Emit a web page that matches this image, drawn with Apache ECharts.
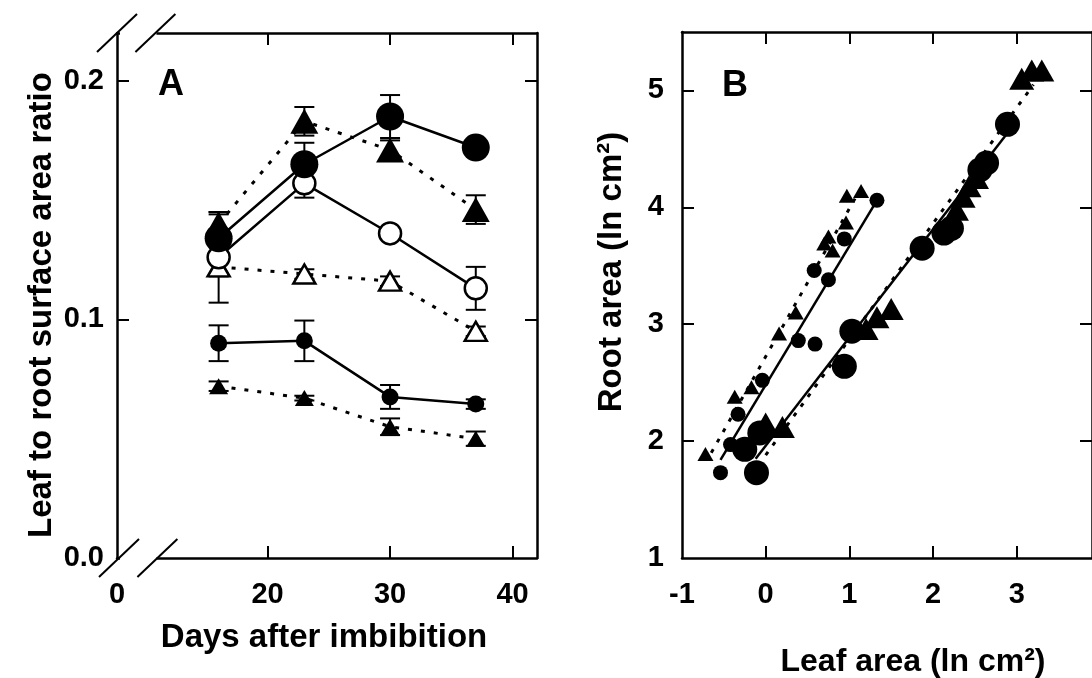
<!DOCTYPE html>
<html><head><meta charset="utf-8">
<script src="https://cdn.jsdelivr.net/npm/echarts@6/dist/echarts.min.js"></script>
<style>html,body{margin:0;padding:0;background:#fff}#c{width:1092px;height:678px}</style>
</head><body><div id="c"></div>
<script>
// ---------- Panel A data ----------
const days = [16, 23, 30, 37];
const bigCircleMean   = [0.134, 0.165, 0.185, 0.172];
const bigCircleErr    = [0.010, 0.009, 0.009, 0.002];
const bigTriMean      = [0.140, 0.183, 0.171, 0.146];
const bigTriErr       = [0.005, 0.006, 0.004, 0.006];
const openCircleMean  = [0.126, 0.157, 0.136, 0.113];
const openCircleErr   = [0.019, 0.006, 0.002, 0.009];
const openTriMean     = [0.122, 0.119, 0.116, 0.095];
const openTriErr      = [0.004, 0.002, 0.002, 0.002];
const smallCircleMean = [0.090, 0.091, 0.0675, 0.0645];
const smallCircleErr  = [0.0075, 0.0085, 0.005, 0.002];
const smallTriMean    = [0.072, 0.067, 0.055, 0.050];
const smallTriErr     = [0.002, 0.001, 0.0035, 0.003];
const dayTicks = [20, 30, 40];
const dayOriginLabel = '0';      // label shown at the left axis (before the axis break)
const ratioTicks = [0, 0.1, 0.2];

// ---------- Panel B data ----------
const smallCirclesB = [[-0.54,1.73],[-0.42,1.97],[-0.33,2.23],[-0.04,2.52],[0.39,2.86],[0.59,2.83],[0.58,3.46],[0.75,3.38],[0.94,3.73],[1.33,4.06]];
const smallTrianglesB = [[-0.72,1.89],[-0.37,2.38],[-0.17,2.46],[0.16,2.92],[0.36,3.10],[0.70,3.69],[0.75,3.75],[0.80,3.63],[0.96,3.87],[0.97,4.10],[1.14,4.14]];
const bigCirclesB = [[-0.25,1.93],[-0.11,1.73],[-0.07,2.07],[0.94,2.64],[1.03,2.94],[1.87,3.65],[2.13,3.78],[2.22,3.82],[2.56,4.32],[2.64,4.38],[2.89,4.71]];
const bigTrianglesB = [[0.00,2.15],[0.20,2.12],[1.20,2.96],[1.33,3.06],[1.50,3.13],[2.28,3.98],[2.36,4.09],[2.43,4.18],[2.52,4.25],[3.06,5.10],[3.18,5.17],[3.30,5.17]];
const fitSmallCircles = [[-0.54,1.84],[1.33,4.06]];
const fitSmallTriangles = [[-0.65,1.90],[1.08,4.09]];
const fitBigCircles = [[-0.12,1.85],[2.98,4.72]];
const fitBigTriangles = [[0.00,1.88],[3.20,5.05]];
const leafTicks = [-1, 0, 1, 2, 3];
const rootTicks = [1, 2, 3, 4, 5];

// ---------- axis settings ----------
const dayAxisStart = 7.7;   // value mapped at the left axis (labelled 0, axis broken)
const dayBreakEnd = 11;
const dayAxisEnd = 42;
const ratioMax = 0.22;
const leafMin = -1, leafMax = 3.9;
const rootMin = 1, rootMax = 5.5;

const FONT = '"Liberation Sans", Arial, Helvetica, sans-serif';
const chart = echarts.init(document.getElementById('c'), null, {renderer: 'canvas'});

function axisCommon(extra) {
  return Object.assign({
    type: 'value',
    axisLine: {show: true, onZero: false, lineStyle: {color: '#000', width: 2.5}},
    splitLine: {show: false},
    axisTick: {show: true, inside: true, length: 12, lineStyle: {color: '#000', width: 2}},
    axisLabel: {show: false}
  }, extra);
}
const labelStyle = {color: '#000', fontFamily: FONT, fontWeight: 'bold', fontSize: 29};

function errRender(params, api) {
  const x = api.value(0), lo = api.value(1), hi = api.value(2);
  const a = api.coord([x, hi]), b = api.coord([x, lo]);
  const w = 10;
  const style = {stroke: '#000', lineWidth: 2};
  return {type: 'group', children: [
    {type: 'line', shape: {x1: a[0], y1: a[1], x2: b[0], y2: b[1]}, style},
    {type: 'line', shape: {x1: a[0]-w, y1: a[1], x2: a[0]+w, y2: a[1]}, style},
    {type: 'line', shape: {x1: b[0]-w, y1: b[1], x2: b[0]+w, y2: b[1]}, style}
  ]};
}
function errSeries(means, errs) {
  return {type: 'custom', xAxisIndex: 0, yAxisIndex: 0, z: 2, silent: true,
    renderItem: errRender, encode: {x: 0, y: [1, 2]},
    data: days.map((d, i) => [d, means[i] - errs[i], means[i] + errs[i]])};
}
function lineA(means, symbol, size, filled, dotted) {
  return {type: 'line', xAxisIndex: 0, yAxisIndex: 0, z: 2, silent: true,
    data: days.map((d, i) => [d, means[i]]),
    symbol, symbolSize: size, showSymbol: true,
    itemStyle: {color: filled ? '#000' : '#fff', borderColor: '#000', borderWidth: filled ? 0 : 2.5, opacity: 1},
    lineStyle: {color: '#000', width: dotted ? 3 : 2.5, type: dotted ? [4, 9] : 'solid'},
    emphasis: {disabled: true}};
}
function scatterB(data, symbol, size) {
  return {type: 'scatter', xAxisIndex: 2, yAxisIndex: 2, z: 3, silent: true,
    data, symbol, symbolSize: size, itemStyle: {color: '#000', opacity: 1}, emphasis: {disabled: true}};
}
function fitB(data, dotted) {
  return {type: 'line', xAxisIndex: 2, yAxisIndex: 2, z: 2, silent: true,
    data, showSymbol: false, symbol: 'none',
    lineStyle: {color: '#000', width: dotted ? 3 : 2.5, type: dotted ? [4, 8] : 'solid'},
    emphasis: {disabled: true}};
}

const option = {
  animation: false,
  backgroundColor: '#fff',
  grid: [
    {left: 117, top: 33, width: 420, height: 525},
    {left: 682, top: 32, width: 419, height: 526}
  ],
  xAxis: [
    axisCommon({gridIndex: 0, position: 'bottom', min: dayAxisStart, max: dayAxisEnd,
      axisTick: {show: true, inside: true, length: 12, lineStyle: {color: '#000', width: 2}, customValues: dayTicks},
      axisLabel: Object.assign({show: true, margin: 22, customValues: [dayAxisStart].concat(dayTicks),
        formatter: v => (v === dayAxisStart ? dayOriginLabel : String(v))}, labelStyle)}),
    axisCommon({gridIndex: 0, position: 'top', min: dayAxisStart, max: dayAxisEnd,
      axisTick: {show: true, inside: true, length: 12, lineStyle: {color: '#000', width: 2}, customValues: dayTicks}}),
    axisCommon({gridIndex: 1, position: 'bottom', min: leafMin, max: leafMax,
      axisTick: {show: true, inside: true, length: 12, lineStyle: {color: '#000', width: 2}, customValues: leafTicks.slice(1)},
      axisLabel: Object.assign({show: true, margin: 22, customValues: leafTicks, formatter: v => String(v)}, labelStyle)}),
    axisCommon({gridIndex: 1, position: 'top', min: leafMin, max: leafMax,
      axisTick: {show: true, inside: true, length: 12, lineStyle: {color: '#000', width: 2}, customValues: leafTicks.slice(1)}})
  ],
  yAxis: [
    axisCommon({gridIndex: 0, position: 'left', min: 0, max: ratioMax,
      axisTick: {show: true, inside: true, length: 12, lineStyle: {color: '#000', width: 2}, customValues: ratioTicks.slice(1)},
      axisLabel: Object.assign({show: true, margin: 13, customValues: ratioTicks, formatter: v => v.toFixed(1)}, labelStyle)}),
    axisCommon({gridIndex: 0, position: 'right', min: 0, max: ratioMax,
      axisTick: {show: true, inside: true, length: 12, lineStyle: {color: '#000', width: 2}, customValues: ratioTicks.slice(1)}}),
    axisCommon({gridIndex: 1, position: 'left', min: rootMin, max: rootMax,
      axisTick: {show: true, inside: true, length: 12, lineStyle: {color: '#000', width: 2}, customValues: rootTicks.slice(1)},
      axisLabel: Object.assign({show: true, margin: 18, customValues: rootTicks, formatter: v => String(v)}, labelStyle)}),
    axisCommon({gridIndex: 1, position: 'right', min: rootMin, max: rootMax,
      axisTick: {show: true, inside: true, length: 12, lineStyle: {color: '#000', width: 2}, customValues: rootTicks.slice(1)}})
  ],
  series: [
    errSeries(openTriMean, openTriErr),
    lineA(openTriMean, 'triangle', [22, 19], false, true),
    errSeries(smallTriMean, smallTriErr),
    lineA(smallTriMean, 'triangle', [19, 16], true, true),
    errSeries(smallCircleMean, smallCircleErr),
    lineA(smallCircleMean, 'circle', 17, true, false),
    errSeries(openCircleMean, openCircleErr),
    lineA(openCircleMean, 'circle', 22, false, false),
    errSeries(bigTriMean, bigTriErr),
    lineA(bigTriMean, 'triangle', [28, 25], true, true),
    errSeries(bigCircleMean, bigCircleErr),
    lineA(bigCircleMean, 'circle', 28, true, false),
    fitB(fitSmallCircles, false),
    fitB(fitSmallTriangles, true),
    fitB(fitBigCircles, false),
    fitB(fitBigTriangles, true),
    scatterB(smallCirclesB, 'circle', 15),
    scatterB(smallTrianglesB, 'triangle', [16, 14]),
    scatterB(bigCirclesB, 'circle', 25),
    scatterB(bigTrianglesB, 'triangle', [25, 22])
  ]
};
chart.setOption(option);

// ---------- decorations: axis break marks, titles, panel letters ----------
const pO = chart.convertToPixel({xAxisIndex: 0, yAxisIndex: 0}, [dayAxisStart, 0]);
const pB = chart.convertToPixel({xAxisIndex: 0, yAxisIndex: 0}, [dayBreakEnd, ratioMax]);
const x0 = pO[0], yBot = pO[1], xBrk = pB[0], yTop = pB[1];
function slash(cx, cy) {
  return {type: 'line', z: 100, shape: {x1: cx - 20, y1: cy + 19, x2: cx + 20, y2: cy - 19},
    style: {stroke: '#000', lineWidth: 2}};
}
function mask(y) {
  return {type: 'rect', z: 99, shape: {x: x0 + 3, y: y - 5, width: xBrk - x0 - 4, height: 10}, style: {fill: '#fff'}};
}
function txt(text, x, y, size, rot, align) {
  return {type: 'text', z: 100, x, y, rotation: rot || 0,
    style: {text, fill: '#000', fontFamily: FONT, fontWeight: 'bold', fontSize: size,
      align: align || 'center', verticalAlign: 'middle'}};
}
chart.setOption({graphic: [
  mask(yBot), mask(yTop),
  slash(x0 + 2, yBot), slash(xBrk, yBot),
  slash(x0, yTop), slash(xBrk - 2, yTop),
  txt('Leaf to root surface area ratio', 42, 305, 33, Math.PI / 2),
  txt('Days after imbibition', 324, 638, 33),
  txt('Root area (ln cm²)', 612, 272, 33, Math.PI / 2),
  txt('Leaf area (ln cm²)', 913, 662, 32),
  txt('A', 158, 85, 36, 0, 'left'),
  txt('B', 722, 86, 36, 0, 'left')
]});
</script>
</body></html>
